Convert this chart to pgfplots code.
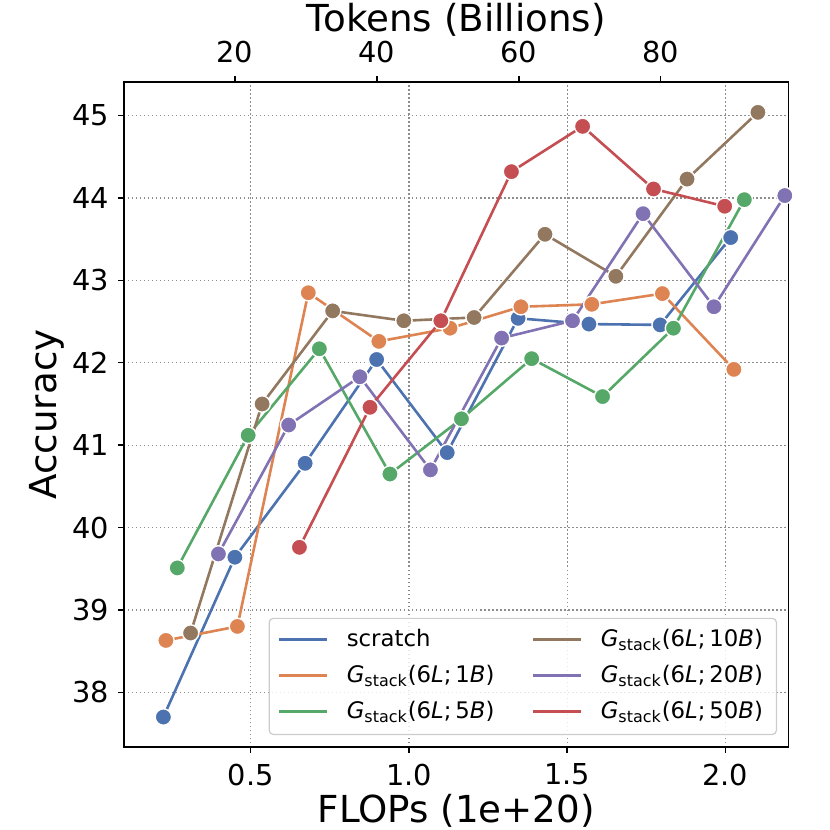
\documentclass[border=0pt]{standalone}
\usepackage{fontspec}
\setmainfont{DejaVu Sans}
\usepackage{pgfplots}
\pgfplotsset{compat=1.18}
\definecolor{cblue}{HTML}{4C72B0}
\definecolor{corange}{HTML}{DD8452}
\definecolor{cgreen}{HTML}{55A868}
\definecolor{cred}{HTML}{C44E52}
\definecolor{cpurple}{HTML}{8172B3}
\definecolor{cbrown}{HTML}{937860}
\definecolor{gridgray}{RGB}{140,140,140}
\definecolor{leggray}{RGB}{204,204,204}
\pgfplotsset{ser/.style={color=#1, line width=1.3pt, mark=*, mark size=4.1pt,
  mark options={draw=white, fill=#1, line width=0.7pt, solid}}}
\newcommand{\Gs}[1]{{\itshape G}\textsubscript{stack}(6{\itshape L};\,#1{\itshape B})}
\begin{document}
\begin{tikzpicture}
\useasboundingbox (-62.15pt,-41.65pt) rectangle (352.85pt,373.35pt);
\begin{axis}[
  scale only axis, width=332pt, height=332.2pt,
  at={(0,0)}, anchor=south west,
  xmin=0.1005, xmax=2.199, ymin=37.34, ymax=45.405,
  xtick={0.5,1.0,1.5,2.0}, ytick={38,39,40,41,42,43,44,45},
  xtick pos=lower, ytick pos=left,
  tick align=inside, major tick length=-3pt,
  every tick/.style={black, line width=0.7pt},
  axis line style={black, line width=0.8pt},
  grid=major,
  grid style={gridgray, line width=0.6pt, dash pattern=on 0.6pt off 1.4pt},
  xticklabel style={font=\fontsize{14.4}{17}\selectfont, anchor=north, inner sep=0pt, yshift=-8.3pt,
    /pgf/number format/.cd, fixed, fixed zerofill, precision=1, assume math mode=true},
  yticklabel style={font=\fontsize{14.4}{17}\selectfont, anchor=east, inner sep=0pt, xshift=-7.5pt,
    /pgf/number format/assume math mode=true},
  xlabel={FLOPs (1e+20)}, ylabel={Accuracy},
  xlabel style={font=\fontsize{18.6}{22}\selectfont, at={([yshift=-37.9pt]axis description cs:0.5,0)}, anchor=base, inner sep=0pt},
  ylabel style={font=\fontsize{18.6}{22}\selectfont, at={([xshift=-33.65pt]axis description cs:0,0.5)}, anchor=base, rotate=0, inner sep=0pt},
  legend columns=2,
  legend cell align=left,
  legend image code/.code={\draw[#1, line width=1.3pt] (0pt,0.36em) -- (24.2pt,0.36em);},
  legend style={at={([xshift=-5.65pt,yshift=5.85pt]axis description cs:1,0)}, anchor=south east,
    draw=leggray, line width=0.6pt, rounded corners=2pt, fill=white, fill opacity=0.8, text opacity=1, draw opacity=1,
    font=\fontsize{11.4}{13.8}\selectfont, inner xsep=4.3pt, inner ysep=5pt, column sep=9pt, row sep=6pt,
    nodes={inner sep=0pt, text width=83.5pt, text height=9pt, text depth=3pt, anchor=base west}},
]
\addplot[ser=cblue, forget plot] coordinates {
(0.224,37.70) (0.450,39.64) (0.672,40.78) (0.898,42.04) (1.121,40.91) (1.345,42.54) (1.569,42.47) (1.794,42.46) (2.017,43.52)};
\addplot[ser=corange, forget plot] coordinates {
(0.232,38.63) (0.458,38.80) (0.682,42.85) (0.905,42.26) (1.130,42.42) (1.354,42.68) (1.578,42.71) (1.801,42.84) (2.027,41.92)};
\addplot[ser=cgreen, forget plot] coordinates {
(0.268,39.51) (0.492,41.12) (0.717,42.17) (0.940,40.65) (1.166,41.32) (1.388,42.05) (1.612,41.59) (1.836,42.42) (2.060,43.98)};
\addplot[ser=cbrown, forget plot] coordinates {
(0.310,38.72) (0.536,41.50) (0.759,42.63) (0.984,42.51) (1.206,42.55) (1.430,43.56) (1.654,43.05) (1.879,44.23) (2.103,45.04)};
\addplot[ser=cpurple, forget plot] coordinates {
(0.398,39.68) (0.620,41.245) (0.845,41.83) (1.068,40.70) (1.293,42.30) (1.517,42.51) (1.740,43.81) (1.964,42.68) (2.188,44.03)};
\addplot[ser=cred, forget plot] coordinates {
(0.654,39.76) (0.877,41.46) (1.101,42.51) (1.324,44.32) (1.549,44.87) (1.773,44.11) (1.998,43.90)};
\addlegendimage{cblue}\addlegendentry{scratch}
\addlegendimage{cbrown}\addlegendentry{\Gs{10}}
\addlegendimage{corange}\addlegendentry{\Gs{1}}
\addlegendimage{cpurple}\addlegendentry{\Gs{20}}
\addlegendimage{cgreen}\addlegendentry{\Gs{5}}
\addlegendimage{cred}\addlegendentry{\Gs{50}}
\end{axis}
\begin{axis}[
  scale only axis, width=332pt, height=332.2pt,
  at={(0,0)}, anchor=south west,
  xmin=4.40, xmax=97.98, ymin=0, ymax=1,
  axis x line*=top, axis y line=none,
  xtick={20,40,60,80},
  tick align=inside, major tick length=-3pt,
  every tick/.style={black, line width=0.7pt},
  axis line style={black, line width=0.8pt},
  xticklabel style={font=\fontsize{14.4}{17}\selectfont, anchor=south, inner sep=0pt, yshift=9.5pt,
    /pgf/number format/assume math mode=true},
  xlabel={Tokens (Billions)},
  xlabel style={font=\fontsize{18.6}{22}\selectfont, at={([yshift=25.3pt]axis description cs:0.5,1)}, anchor=base, inner sep=0pt},
]
\end{axis}
\end{tikzpicture}
\end{document}
